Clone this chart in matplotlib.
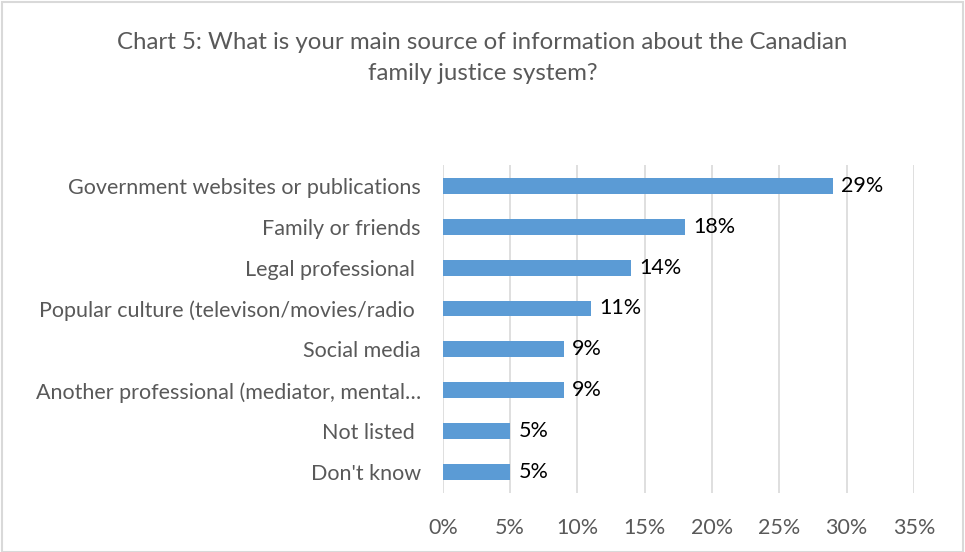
import matplotlib
matplotlib.use('Agg')
import matplotlib.pyplot as plt
from matplotlib.patches import Rectangle
from matplotlib.ticker import FuncFormatter

plt.rcParams['font.family'] = ['Lato', 'DejaVu Sans']

categories = ['Government websites or publications', 'Family or friends',
              'Legal professional ', 'Popular culture (televison/movies/radio ',
              'Social media', 'Another professional (mediator, mental\u2026',
              'Not listed ', "Don't know"]
shares = [29, 18, 14, 11, 9, 9, 5, 5]
x_ticks = [0, 5, 10, 15, 20, 25, 30, 35]

bar_color = '#5b9bd5'
grid_color = '#d9d9d9'
text_grey = '#595959'

fig = plt.figure(figsize=(9.65, 5.52), dpi=100)
ax = fig.add_axes([0.459, 0.107, 0.488, 0.594])

ypos = list(range(len(categories)))
ax.barh(ypos, shares, height=0.39, color=bar_color, zorder=3)
ax.set_ylim(len(categories) - 0.5, -0.5)
ax.set_xlim(0, 35)

for y, v in zip(ypos, shares):
    ax.annotate('%d%%' % v, (v, y), xytext=(6, 0), textcoords='offset points',
                va='center', ha='left', fontsize=15.5, color='#000000')

ax.set_yticks(ypos)
ax.set_yticklabels(categories, fontsize=15.5, color=text_grey)
ax.set_xticks(x_ticks)
ax.xaxis.set_major_formatter(FuncFormatter(lambda v, p: '%d%%' % v))
ax.tick_params(axis='x', labelsize=15.5, labelcolor=text_grey, length=0, pad=18)
ax.tick_params(axis='y', length=0, pad=16)
ax.grid(axis='x', color=grid_color, linewidth=1.2, zorder=0)
for s in ax.spines.values():
    s.set_visible(False)

fig.text(0.5, 0.895, 'Chart 5: What is your main source of information about the Canadian\nfamily justice system?',
         ha='center', va='center', fontsize=17.3, color=text_grey, linespacing=1.55)

# thin frame round the chart area
fig.patches.append(Rectangle((0.002, 0.0), 0.996, 0.996, transform=fig.transFigure,
                             fill=False, edgecolor=grid_color, linewidth=1.5))

fig.savefig('out.png', dpi=100, facecolor='white')
